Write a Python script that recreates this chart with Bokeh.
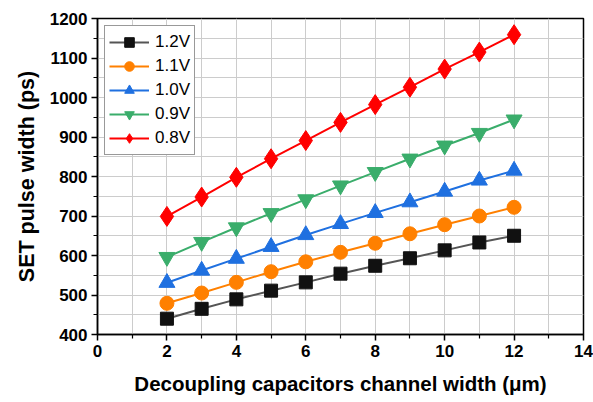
from bokeh.plotting import figure
from bokeh.models import FixedTicker, Legend
from bokeh.embed import file_html
from bokeh.resources import INLINE

# Channel width of the decoupling capacitors (um)
widths = [2, 3, 4, 5, 6, 7, 8, 9, 10, 11, 12]

# SET pulse width (ps) for each supply voltage
v12 = [440, 465, 489, 511, 532, 554, 574, 593, 613, 633, 650]
v11 = [479, 505, 532, 559, 584, 608, 631, 655, 678, 700, 722]
v10 = [531, 562, 592, 622, 652, 680, 708, 735, 762, 790, 815]
v09 = [596, 634, 671, 707, 742, 777, 811, 845, 878, 910, 944]
v08 = [699, 748, 798, 845, 891, 937, 982, 1026, 1072, 1115, 1159]

labels = ["1.2V", "1.1V", "1.0V", "0.9V", "0.8V"]

FONT = "Liberation Sans"

p = figure(width=593, height=402, x_range=(0, 14), y_range=(400, 1200),
           output_backend="svg", toolbar_location=None,
           min_border_left=97, min_border_right=10,
           min_border_top=18, min_border_bottom=68)

p.background_fill_color = "white"
p.border_fill_color = "white"
p.outline_line_color = "black"
p.outline_line_width = 1.5

xt = FixedTicker(ticks=list(range(0, 15, 2)), minor_ticks=list(range(1, 14, 2)))
yt = FixedTicker(ticks=list(range(400, 1201, 100)), minor_ticks=list(range(450, 1200, 100)))
p.xaxis.ticker = xt
p.yaxis.ticker = yt
p.xgrid.ticker = xt
p.ygrid.ticker = yt

for g in (p.xgrid, p.ygrid):
    g.grid_line_color = "#cccccc"
    g.grid_line_width = 1
    g.minor_grid_line_color = "#cccccc"
    g.minor_grid_line_width = 1

for ax in (p.xaxis, p.yaxis):
    ax.axis_line_color = "black"
    ax.axis_line_width = 1.5
    ax.major_tick_line_color = "black"
    ax.major_tick_line_width = 1.5
    ax.major_tick_in = 0
    ax.major_tick_out = 6
    ax.minor_tick_line_color = "black"
    ax.minor_tick_line_width = 1.2
    ax.minor_tick_in = 0
    ax.minor_tick_out = 4
    ax.major_label_text_font = FONT
    ax.major_label_text_font_style = "bold"
    ax.major_label_text_font_size = "17px"
    ax.major_label_text_color = "black"
    ax.axis_label_text_font = FONT
    ax.axis_label_text_font_style = "bold"
    ax.axis_label_text_color = "black"

p.xaxis.axis_label = "Decoupling capacitors channel width (μm)"
p.yaxis.axis_label = "SET pulse width (ps)"
p.xaxis.axis_label_text_font_size = "20.5px"
p.yaxis.axis_label_text_font_size = "21.5px"
p.xaxis.major_label_standoff = 4
p.yaxis.major_label_standoff = 4
p.xaxis.axis_label_standoff = 12
p.yaxis.axis_label_standoff = 8

series = [
    (v12, "#111111", "#555555", "square", 13),
    (v11, "#ff8000", "#ff8000", "circle", 14),
    (v10, "#1f70e0", "#1f70e0", "triangle", 16),
    (v09, "#3aad6b", "#3aad6b", "inverted_triangle", 16),
    (v08, "#ff0000", "#ff0000", "diamond", 20),
]

items = []
for (ys, mcol, lcol, mk, sz), lab in zip(series, labels):
    r1 = p.line(widths, ys, line_color=lcol, line_width=2)
    r2 = p.scatter(widths, ys, marker=mk, size=sz, fill_color=mcol, line_color=mcol)
    items.append((lab, [r1, r2]))

legend = Legend(items=items, location="top_left")
legend.label_text_font = FONT
legend.label_text_font_size = "17px"
legend.label_text_color = "black"
legend.border_line_color = "#333333"
legend.border_line_width = 1.2
legend.background_fill_color = "white"
legend.background_fill_alpha = 1
legend.glyph_width = 40
legend.glyph_height = 24
legend.label_height = 24
legend.spacing = 0
legend.padding = 4
legend.margin = 7
legend.label_standoff = 6
p.add_layout(legend, "center")

open("out.html", "w").write(file_html(p, INLINE))
